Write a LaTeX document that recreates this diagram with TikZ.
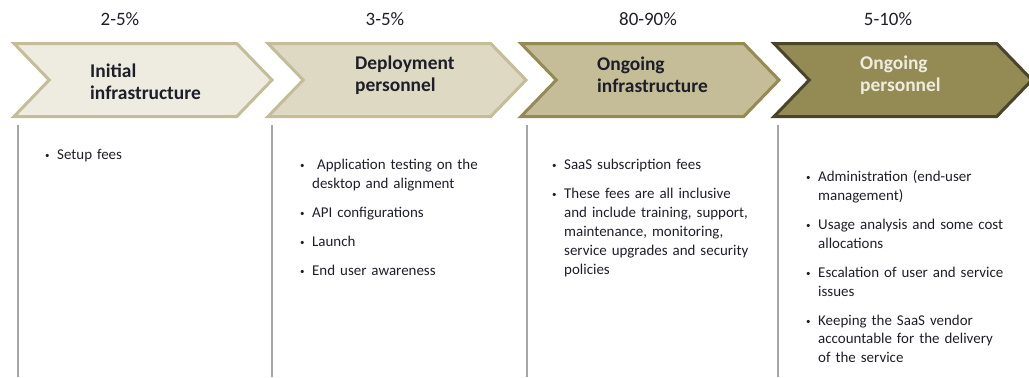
\documentclass[tikz,border=0pt]{standalone}
\usepackage{fontspec}
\setmainfont{Carlito}
\usetikzlibrary{shapes.symbols}
\definecolor{tanA}{HTML}{EEECE1}
\definecolor{tanB}{HTML}{DDD9C3}
\definecolor{tanC}{HTML}{C4BD97}
\definecolor{tanD}{HTML}{948A54}
\definecolor{tanE}{HTML}{4A452A}
\definecolor{ink}{HTML}{1E1E2A}
\definecolor{rulegray}{HTML}{A6A6A6}
\newcommand{\bitem}[1]{\hyphenpenalty=10000 \exhyphenpenalty=10000
  \hangindent=12bp\hangafter=1\noindent\makebox[12bp][l]{\raisebox{0.6bp}{\fontsize{9}{9}\selectfont\textbullet}}\strut#1\par\vspace{10bp}}
\tikzset{
  chev/.style = {signal, signal from=west, signal to=east, signal pointer angle=92,
                 minimum width=258bp, minimum height=73bp, inner sep=0pt, line width=3bp},
  ttl/.style = {font=\bfseries\fontsize{19.5}{22}\selectfont, align=left, anchor=west, text=ink, inner sep=0pt},
  pct/.style = {font=\fontsize{19}{22}\selectfont, text=ink, inner sep=0pt},
  blist/.style = {anchor=north west, inner sep=0pt, text width=230bp, text=ink,
                  font=\fontsize{15}{19}\selectfont, align=left},
  colrule/.style = {draw=rulegray, line width=1.8bp}
}
\begin{document}
\begin{tikzpicture}[x=1bp, y=-1bp]
\useasboundingbox (0,0) rectangle (1029,377);
\clip (0,0) rectangle (1029,377);

% percentages
\node [pct] (p1) at (120,19) {2-5\%};
\node [pct] (p2) at (385,19) {3-5\%};
\node [pct] (p3) at (648,19) {80-90\%};
\node [pct] (p4) at (888,19) {5-10\%};

% chevrons
\node [chev, fill=tanA, draw=tanC] (c1) at (143,80) {};
\node [chev, fill=tanB, draw=tanC] (c2) at (397,80) {};
\node [chev, fill=tanC, draw=tanD] (c3) at (650,80) {};
\node [chev, fill=tanD, draw=tanE] (c4) at (903,80) {};

\node [ttl] (t1) at (90,82) {Initial\\infrastructure};
\node [ttl] (t2) at (355,75) {Deployment\\personnel};
\node [ttl] (t3) at (597,75) {Ongoing\\infrastructure};
\node [ttl, text=tanA] (t4) at (860,75) {Ongoing\\personnel};

% column rules
\coordinate (r1) at (18,125);  \coordinate (r1e) at (18,377);
\coordinate (r2) at (272,125); \coordinate (r2e) at (272,377);
\coordinate (r3) at (527,125); \coordinate (r3e) at (527,377);
\coordinate (r4) at (778,125); \coordinate (r4e) at (778,377);
\foreach \r in {1,...,4}
  \draw [colrule] (r\r) -- (r\r e);

% bullet lists
\node [blist] (b1) at (45,146) {\bitem{Setup fees}};
\node [blist] (b2) at (300,156) {\bitem{\ Application testing on the\newline desktop and alignment}
  \bitem{API configurations}\bitem{Launch}\bitem{End user awareness}};
\node [blist] (b3) at (552,156) {\bitem{SaaS subscription fees}
  \bitem{These fees are all inclusive\newline and include training, support,\newline maintenance, monitoring,\newline service upgrades and security\newline policies}};
\node [blist] (b4) at (806,168) {\bitem{Administration (end-user\newline management)}
  \bitem{Usage analysis and some cost\newline allocations}
  \bitem{Escalation of user and service\newline issues}
  \bitem{Keeping the SaaS vendor\newline accountable for the delivery\newline of the service}};
\end{tikzpicture}
\end{document}
